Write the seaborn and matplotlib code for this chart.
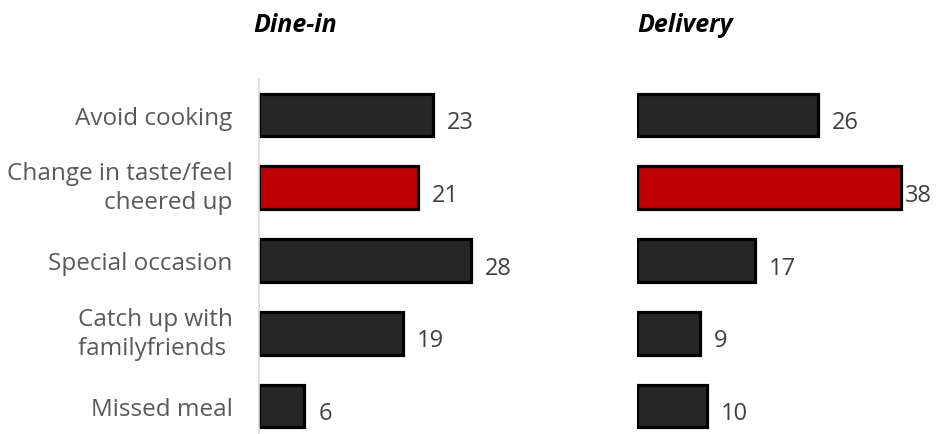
import matplotlib
matplotlib.use("Agg")
import matplotlib.pyplot as plt
import seaborn as sns
import pandas as pd

categories = ["Avoid cooking", "Change in taste/feel\ncheered up", "Special occasion",
              "Catch up with\nfamilyfriends ", "Missed meal"]
dine_in = [23, 21, 28, 19, 6]
delivery = [26, 38, 17, 9, 10]
highlight = "Change in taste/feel\ncheered up"
panel_titles = ["Dine-in", "Delivery"]

sns.set_theme(style="white")
plt.rcParams['font.family'] = ['Open Sans', 'DejaVu Sans']

W, H = 938, 435
fig = plt.figure(figsize=(W / 100, H / 100), dpi=100)

def px_axes(x0, x1, y_top, y_bot):
    return fig.add_axes([x0 / W, (H - y_bot) / H, (x1 - x0) / W, (y_bot - y_top) / H])

ax1 = px_axes(259, 259 + 7.57 * 30, 79.6, 443.4)
ax2 = px_axes(637, 637 + 6.95 * 40, 79.6, 443.4)

dark = "#262626"
red = "#C00000"
palette = {c: (red if c == highlight else dark) for c in categories}

for ax, vals, xmax, title, tx in [(ax1, dine_in, 30, panel_titles[0], 253),
                                   (ax2, delivery, 40, panel_titles[1], 637)]:
    df = pd.DataFrame({"cat": categories, "val": vals})
    sns.barplot(data=df, y="cat", x="val", hue="cat", palette=palette, order=categories,
                orient="h", width=0.59, edgecolor="black", linewidth=2.3, saturation=1,
                legend=False, ax=ax)
    ax.set_xlim(0, xmax)
    ax.set_ylim(4.5, -0.5)
    ax.set_xlabel("")
    ax.set_ylabel("")
    ax.set_xticks([])
    for s in ["top", "right", "bottom"]:
        ax.spines[s].set_visible(False)
    ax.spines["left"].set_color("#d9d9d9")
    ax.spines["left"].set_linewidth(1.2)
    for i, v in enumerate(vals):
        pad = 10
        if v > xmax * 0.945:
            pad = 3
        ax.annotate(str(v), xy=(v, i), xytext=(pad, -3), textcoords="offset points",
                    va="center_baseline", ha="left", fontsize=17, color="#404040",
                    annotation_clip=False)
    fig.text(tx / W, (H - 25) / H, title, fontsize=18, fontweight="bold", fontstyle="italic",
             color="black", ha="left", va="center", family=["Open Sans", "DejaVu Sans"])

ax1.tick_params(axis="y", length=0, pad=19, labelsize=17.5, labelcolor="#595959")
for lbl in ax1.get_yticklabels():
    lbl.set_linespacing(1.3)
    if "\n" in lbl.get_text():
        lbl.set_va("center")
ax2.set_yticks([])
ax2.spines["left"].set_visible(False)

fig.savefig("out.png", dpi=100)
